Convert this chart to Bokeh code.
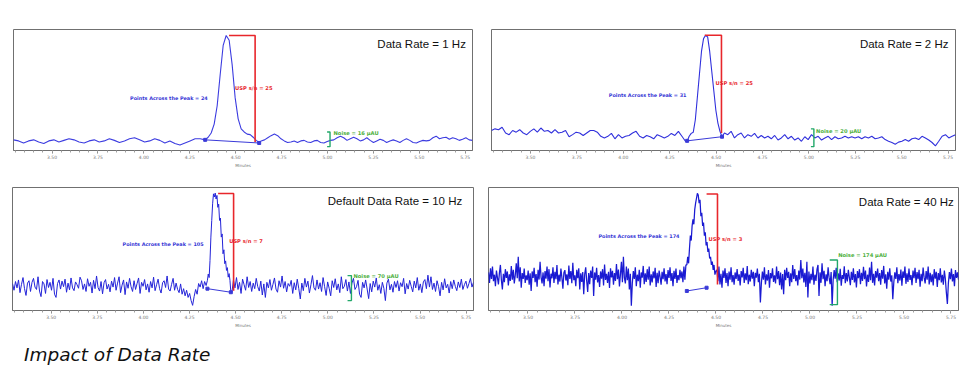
import numpy as np
from bokeh.plotting import figure
from bokeh.models import Range1d, Label, FixedTicker, Div, NumeralTickFormatter
from bokeh.layouts import column, row
from bokeh.embed import file_html
from bokeh.resources import INLINE

# ---------------- data ----------------
T_START, T_END = 3.29, 5.79
tick_values = [3.50, 3.75, 4.00, 4.25, 4.50, 4.75, 5.00, 5.25, 5.50, 5.75]

titles = ["Data Rate = 1 Hz", "Data Rate = 2 Hz", "Default Data Rate = 10 Hz", "Data Rate = 40 Hz"]
points_across = [24, 31, 105, 174]
usp_sn = [25, 25, 7, 3]
noise_uau = [16, 20, 70, 174]

# Panel 1 (1 Hz) signal, µAU: pre-peak / peak / post-peak segments
p1_seg_t = [(3.29, 4.334), (4.334, 4.628), (4.639, 5.79)]
p1_pre = [1, -1, -5, -1, 1, -3, -6, -1, 1, -3, 0, 3, 1, -3, -5, -1, 1, -3, -1, 3, 0, -4, -1, 3, 5, 1,
          -3, -1, 3, 0, -5, -1, -6, -9, -5, -1, 3, 3, 1]
p1_peak = [1, 6, 14, 31, 66, 125, 181, 200, 191, 144, 81, 41, 22, 16, 12, 11, 6, 0, -4]
p1_post = [-1, 1, 5, 9, 12, 9, 3, -1, -4, -3, -1, -4, -1, 0, -3, -4, -1, 0, -4, -5, -2, 0, 1, 5, 8,
           5, 0, 3, 6, 3, -1, 1, 5, 0, -4, -1, 2, 0, -4, -1, 1, -1, -4, 0, 3, 0, -4, -5, -2, 0,
           -1, 0, 5, 8, 3, 5, 6, 2, 5, 3, 0, 2, 5, 1, 0]

# Panel 2 (2 Hz)
p2_seg_t = [(3.29, 4.335), (4.344, 4.532), (4.545, 5.79)]
p2_pre = [20, 24, 22, 28, 14, 10, 20, 16, 22, 14, 10, 18, 24, 16, 26, 18, 20, 14, 22, 14, 16, 20, 5,
          10, 16, 14, 8, 14, 20, 20, 16, 6, 2, 6, 13, 0, 10, 2, 6, 8, 14, 18, 6, 2, 8, 5, 0, 10, 6,
          2, 6, 13, 8, 18, 6, -6]
p2_peak = [-6, 6, 13, 16, 46, 101, 156, 211, 242, 250, 246, 211, 163, 116, 69, 38, 18, 5]
p2_post = [14, 10, 18, 2, 10, 14, 2, 10, 6, 13, 2, 8, 2, 6, 0, 8, -3, 2, 10, 0, 6, -3, 2, -6, 5,
           -2, 10, 2, 6, -3, 2, 6, -2, 5, 0, 2, 6, 2, 5, 2, 5, 0, 5, 2, 6, 0, 2, 5, -2, -6, -9,
           -13, -8, -6, -2, -6, 0, 2, -2, 6, 2, -3, -9, -17, -6, 6, 10, 2, 6, 10]

# Panel 3 (10 Hz)
p3_seg_t = [(3.29, 4.340), (4.347, 4.474), (4.480, 5.79)]
p3_pre = [5, -12, 10, -6, 14, -18, 3, 20, -8, -25, 6, 12, -15, 8, 18, -4, -10, 22, -14, -28, 10, 4,
          -20, 15, -5, 8, -12, 18, -22, -30, 5, 14, -9, 11, -3, 16, -17, 6, -11, 19, -6, -13, 9, 2,
          -7, 21, 12, -10, 4, -15, 17, -2, 8, -19, 13, -8, 24, -5, -14, 10, -21, 7, 15, -9, 3, -16,
          11, -4, 20, -12, 6, 22, -18, 1, 14, -23, 9, -7, 18, -3, -15, 12, -10, 5, 19, -20, 8, -2,
          15, -11, 4, -17, 10, -6, 21, -13, 2, 16, -8, -19, 7, 12, -5, 24, -9, -14, 3, 18, -12, 6,
          -10, -18, 4, -22, -8, -26, -12, -30, -20, -38, -50, -28, -10, -22, 5, -4, 12, -8, 10, 0]
p3_peak = [13, 29, 20, 63, 122, 164, 206, 231, 223, 233, 218, 227, 197, 205, 164, 170, 122, 130,
           80, 90, 55, 62, 38, 45, 21, 30, 13, -17]
p3_post = [-17, 14, -6, 20, -10, 8, -20, 16, 2, -12, 22, -5, 10, -15, 6, -8, 18, -3, -14, 11, -24, 4,
           -30, 8, -6, 15, -12, 3, 19, -9, -17, 12, -4, 24, -7, 10, -16, 5, -2, 13, -20, 7, -11, 16,
           -8, -34, 6, -13, 18, -4, 11, -19, 2, 25, -6, -12, 14, -9, 7, -15, 20, -3, -25, 9, -7, -26,
           12, -5, 17, -11, 4, -18, 22, -8, -2, 15, -14, 9, -20, 6, 18, -10, -3, 13, -22, -30, 8, -6,
           14, -9, -33, 5, -16, 11, -4, 19, -12, 2, -20, 8, -7, -38, 6, 16, -11, 3, -17, 10, -5, 12,
           -14, 7, -3, 18, -21, 5, -9, 13, -2, -16, 11, -6, 20, -12, 4, -18, 9, 15, -8, 26, -4, 22,
           -10, 6, -15, 12, -3, -26, 8, -11, 17, -6, 3, -19, 10, -8, 14, -2, -13, 9, -5, 16, -10, 2,
           11, -7, 5, 18, -4, 8]

# Panel 4 (40 Hz)
p4_seg_t = [(3.29, 4.340), (4.345, 4.499), (4.505, 5.79)]
p4_pre = [12, -20, 25, -8, 30, -15, 5, -30, 18, -4, -25, 10, 35, -12, -40, 8, -18, 22, -5, 15,
          -28, 6, -14, 32, -10, 20, -22, 4, 40, -6, 60, -16, 28, -35, 10, -8, 24, -20, 3, -12,
          18, -26, 9, -45, 15, -5, 26, -18, 7, -32, 20, -10, 45, -3, -22, 12, -30, 16, -7, 30,
          -15, 22, -34, 8, -6, 28, -20, 14, -9, 35, -25, 5, -16, 24, -4, -38, 11, 19, -13, 6,
          -27, 33, -8, 16, -21, 42, -12, 3, -30, 20, -6, 25, -40, 9, -17, 13, -55, 7, 28, -14,
          -48, 10, -24, 18, -5, 30, -60, 12, -10, 26, -19, 4, -33, 15, -7, 22, -28, 36, -11, 8,
          -20, 14, -36, 25, -3, 17, -26, 10, -14, 38, -9, 21, -31, 6, 45, -18, 60, -5, -22, 30,
          -12, 24, -40, 8, -90, -20, 16, -8, 28, -30, 5, -15, 20, -35, 12, -4, 32, -24, 9, -17,
          22, -10, 30, -28, 6, -19, 15, -6, 26, -33, 11, -21, 18, -2, -26, 14, -9, 25, -16, 7,
          -24, 19, -5, 28, -14, 10, -30, 17, -8, 24, -20, 4, -12, 20, -6, 15, -18, 30, -10, 35]
p4_peak = [35, 60, 40, 85, 125, 110, 155, 175, 160, 205, 225, 240, 255, 250, 225, 235, 185, 195,
           155, 165, 125, 135, 95, 105, 75, 85, 55, 60, 35, 45, 20, 35, 5, 15]
p4_post = [20, -15, 30, -25, 8, -35, 18, -5, 25, -20, 10, -30, 15, -10, 28, -18, 4, -26, 12, -8,
           22, -14, 6, -28, 16, -3, 26, -20, 9, -12, 32, -24, 5, -16, 20, -7, 14, -30, 11, -4,
           24, -18, 8, -80, -20, 15, -10, 28, -25, 6, -13, 19, -35, 10, -6, 25, -17, 3, -22, 30,
           -9, 16, -27, 12, -40, 7, -55, 20, -12, 26, -5, 14, -30, 9, -18, 35, -8, 22, -15, 4,
           -28, 18, -10, 50, -6, 24, -19, 11, -33, 45, -65, 15, -22, 8, -12, 30, -26, 5, -14, 21,
           35, -60, 12, -20, 40, -9, 17, -30, 6, -15, 28, -4, -24, 13, -90, -10, 19, -7, 26, -18,
           9, -13, 23, -29, 4, -8, 31, -21, 10, -16, 20, -3, -27, 14, -11, 25, -19, 7, -34, 16,
           -6, 22, -24, 11, -14, 29, -9, 18, -31, 5, -17, 27, -12, 45, -20, 8, -28, 16, -4, 24,
           -15, 10, -26, 19, -7, 32, -22, 6, -38, 14, -10, 25, -16, 3, -70, -18, 12, -8, 28, -21,
           7, -13, 21, -29, 15, -5, 30, -23, 9, -17, 24, -11, 4, -27, 18, -6, 26, -20, 13, -9,
           20, -32, 8, -15, 27, -4, -22, 16, -10, 30, -25, 11, -18, 6, -28, 22, -7, 14, -33, 10,
           -12, 25, -19, 5, -26, 18, -8, -50, -85, -20, 13, -9, 24, -16, 7, -30, 19, -5, 12, -10]

# Annotation values (minutes, µAU)
sn_line_x = [(4.464, 4.606), (4.439, 4.529), (4.405, 4.489), (4.450, 4.508)]
sn_line_y = [(200, -3), (250, 14), (232, -13), (253, -25)]
peak_base_x = [(4.334, 4.628), (4.344, 4.532), (4.347, 4.474), (4.345, 4.450)]
peak_base_y = [(1, -5), (-5, 5), (-8, -17), (-45, -35)]
noise_br_x = [(4.998, 5.014), (5.011, 5.027), (5.107, 5.128), (5.105, 5.146)]
noise_br_y = [(16, -12), (24, -19), (25, -38), (50, -87)]
noise_txt = [(5.033, 14), (5.039, 18), (5.139, 23), (5.150, 65)]
usp_txt = [(4.497, 99), (4.497, 134), (4.465, 111), (4.460, 115)]
pts_txt = [(3.925, 80), (3.922, 106), (3.887, 105), (3.875, 123)]
title_pos = [(5.754, 184), (5.752, 230), (5.729, 212), (5.765, 227)]
y_ranges = [(-19.3, 211.4), (-28.3, 264), (-63, 247), (-105, 273)]

TRACE_COLORS = ["#3c3ce0", "#3030dc", "#2424d8", "#1a1ad2"]
TRACE_WIDTHS = [1.1, 1.1, 1.0, 1.25]


def build_trace(seg_t, segments):
    xs, ys = [], []
    for (t0, t1), vals in zip(seg_t, segments):
        xs.extend(np.linspace(t0, t1, len(vals)).tolist())
        ys.extend(vals)
    return xs, ys


traces = [
    build_trace(p1_seg_t, [p1_pre, p1_peak, p1_post]),
    build_trace(p2_seg_t, [p2_pre, p2_peak, p2_post]),
    build_trace(p3_seg_t, [p3_pre, p3_peak, p3_post]),
    build_trace(p4_seg_t, [p4_pre, p4_peak, p4_post]),
]

# layout geometry: (width, height, border left, right, top, bottom)
geoms = [
    (481, 170, 13, 9, 29, 18),
    (479, 170, 10, 5, 26, 20),
    (480, 160, 12, 7, 17, 20),
    (480, 160, 8, 2, 14, 20),
]

minor = [round(v, 2) for v in np.arange(3.30, 5.80, 0.05)]


def make_panel(i):
    w, h, bl, br, bt, bb = geoms[i]
    p = figure(width=w, height=h, x_range=Range1d(T_START, T_END),
               y_range=Range1d(*y_ranges[i]), output_backend="svg",
               toolbar_location=None, y_axis_location=None,
               min_border_left=bl, min_border_right=br, min_border_top=bt,
               min_border_bottom=bb, background_fill_color="white",
               border_fill_color="white")
    p.grid.visible = False
    p.outline_line_color = "#707070"
    p.outline_line_width = 1

    ax = p.xaxis[0]
    ax.ticker = FixedTicker(ticks=tick_values, minor_ticks=minor)
    ax.formatter = NumeralTickFormatter(format="0.00")
    ax.axis_line_color = "#707070"
    ax.major_tick_line_color = "#808080"
    ax.minor_tick_line_color = "#a0a0a0"
    ax.major_tick_in = 0
    ax.major_tick_out = 3
    ax.minor_tick_in = 0
    ax.minor_tick_out = 2
    ax.major_label_standoff = 1
    ax.major_label_text_font = "DejaVu Sans"
    ax.major_label_text_font_size = "4.5px"
    ax.major_label_text_color = "#777777"
    ax.axis_label = "Minutes"
    ax.axis_label_standoff = 1
    ax.axis_label_text_font = "DejaVu Sans"
    ax.axis_label_text_font_size = "4px"
    ax.axis_label_text_font_style = "normal"
    ax.axis_label_text_color = "#777777"

    xs, ys = traces[i]
    p.line(xs, ys, line_color=TRACE_COLORS[i], line_width=TRACE_WIDTHS[i])

    # peak baseline
    bx, by = peak_base_x[i], peak_base_y[i]
    p.line(list(bx), list(by), line_color="#3a3ad8", line_width=1)
    p.scatter(list(bx), list(by), marker="square", size=3, color="#3a3ad8")

    # USP s/n bar (red)
    (sx0, sx1), (sy0, sy1) = sn_line_x[i], sn_line_y[i]
    p.line([sx0, sx1, sx1], [sy0, sy0, sy1], line_color="#e8262b", line_width=1.6)

    # noise bracket (green)
    (nx0, nx1), (ny0, ny1) = noise_br_x[i], noise_br_y[i]
    p.line([nx0, nx1, nx1, nx0], [ny0, ny0, ny1, ny1], line_color="#22a86a", line_width=1.4)

    p.add_layout(Label(x=noise_txt[i][0], y=noise_txt[i][1],
                       text=f"Noise = {noise_uau[i]} µAU", text_font="DejaVu Sans",
                       text_font_size="5.2px", text_color="#4caf3c",
                       text_font_style="bold", text_baseline="middle", text_align="left"))
    p.add_layout(Label(x=usp_txt[i][0], y=usp_txt[i][1],
                       text=f"USP s/n = {usp_sn[i]}", text_font="DejaVu Sans",
                       text_font_size="5.2px", text_color="#e8262b",
                       text_font_style="bold", text_baseline="middle", text_align="left"))
    p.add_layout(Label(x=pts_txt[i][0], y=pts_txt[i][1],
                       text=f"Points Across the Peak = {points_across[i]}",
                       text_font="DejaVu Sans", text_font_size="4.9px",
                       text_color="#3535d5", text_font_style="bold",
                       text_baseline="middle", text_align="left"))
    p.add_layout(Label(x=title_pos[i][0], y=title_pos[i][1], text=titles[i],
                       text_font="Liberation Sans", text_font_size="11.5px",
                       text_color="#111111", text_align="right",
                       text_baseline="alphabetic"))
    return p


panels = [make_panel(i) for i in range(4)]

caption = Div(
    text='<span style="font-family:\'DejaVu Sans\'; font-style:italic; font-size:18.5px; '
         'color:#111111; white-space:nowrap;">Impact of Data Rate</span>',
    width=300, height=24, margin=(12, 0, 0, 24))

layout = column(row(panels[0], panels[1]), row(panels[2], panels[3]), caption)

open("out.html", "w").write(file_html(layout, INLINE))
